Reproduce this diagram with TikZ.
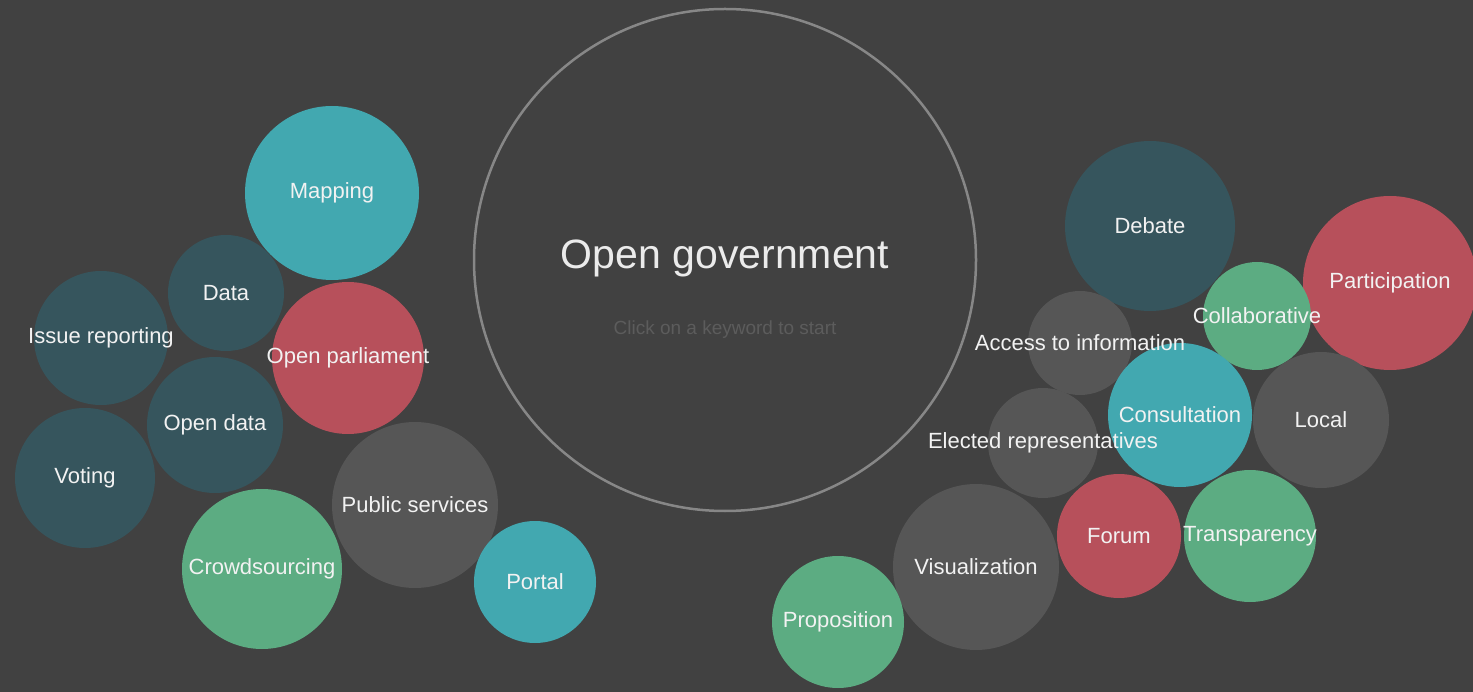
\documentclass[tikz,border=0pt]{standalone}
\usepackage{fontspec}
\setmainfont{Liberation Sans}
\usetikzlibrary{positioning}
\definecolor{bgGray}{RGB}{65, 65, 65}
\definecolor{deepTeal}{RGB}{54, 85, 93}
\definecolor{lightTeal}{RGB}{66, 168, 176}
\definecolor{roseRed}{RGB}{183, 80, 91}
\definecolor{mintGreen}{RGB}{92, 172, 130}
\definecolor{stoneGray}{RGB}{86, 86, 86}
\definecolor{ringGray}{RGB}{135, 135, 135}
\definecolor{hintGray}{RGB}{92, 92, 92}

\begin{document}
\begin{tikzpicture}[
    x = 1pt, y = -1pt,
    bubble/.style = {circle, inner sep=0pt, outer sep=0pt,
        minimum size=2*#1},
    tag/.style = {text=white!95!black, inner sep=0pt,
        font=\fontsize{22}{26}\selectfont}
  ]
  \fill[bgGray] (0,0) rectangle (1473,692);
  \useasboundingbox (0,0) rectangle (1473,692);

  % centre ring
  \node[bubble=251, draw=ringGray, line width=2.5pt] (hub) at (725,260) {};
  \node[text=white!92!black, font=\fontsize{41}{48}\selectfont] (title) at (725,258) {Open government};
  \node[text=hintGray, font=\fontsize{19}{22}\selectfont] (hint) at (725,330) {Click on a keyword to start};

  % keyword bubbles
  \foreach \name/\cx/\cy/\r/\col in {
      mapping/332/193/87/lightTeal, data/226/293/58/deepTeal,
      issue/101/338/67/deepTeal, parliament/348/358/76/roseRed,
      opendata/215/425/68/deepTeal, voting/85/478/70/deepTeal,
      crowd/262/569/80/mintGreen, public/415/505/83/stoneGray,
      portal/535/582/61/lightTeal,
      debate/1150/226/85/deepTeal, participation/1390/283/87/roseRed,
      collab/1257/316/54/mintGreen, access/1080/343/52/stoneGray,
      consult/1180/415/72/lightTeal, local/1321/420/68/stoneGray,
      elected/1043/443/55/stoneGray, forum/1119/536/62/roseRed,
      transp/1250/536/66/mintGreen, visual/976/567/83/stoneGray,
      proposition/838/622/66/mintGreen}
  \node[bubble=\r, fill=\col] (\name) at (\cx,\cy) {};

  % labels on top
  \foreach \name/\txt in {
      mapping/Mapping, data/Data, issue/Issue reporting,
      parliament/Open parliament, opendata/Open data, voting/Voting,
      crowd/Crowdsourcing, public/Public services, portal/Portal,
      debate/Debate, participation/Participation, collab/Collaborative,
      access/Access to information, consult/Consultation, local/Local,
      elected/Elected representatives, forum/Forum, transp/Transparency,
      visual/Visualization, proposition/Proposition}
  \node[tag] (\name-tag) at (\name) {\txt};
\end{tikzpicture}
\end{document}
